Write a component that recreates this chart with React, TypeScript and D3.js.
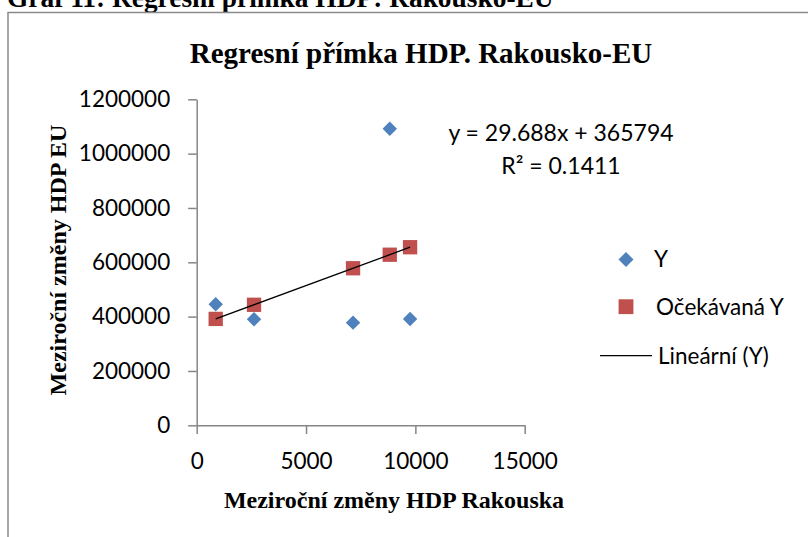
import React, { useRef, useEffect } from "react";
import { select, axisLeft, axisBottom, scaleLinear, symbol, symbolSquare } from "d3";

// values
const xValues = [869, 2621, 7150, 8829, 9758];
const yValues = [445700, 390400, 377900, 1091300, 391500];
const expectedY = [391600, 443600, 578100, 627900, 655500];
const xTicks = [0, 5000, 10000, 15000];
const yTicks = [0, 200000, 400000, 600000, 800000, 1000000, 1200000];
const slope = 29.688;
const intercept = 365794;
const legendLabels = ["Y", "Očekávaná Y", "Lineární (Y)"];

const W = 808;
const H = 537;
const numFont = "Lato, 'Open Sans', sans-serif";
const serif = "'Liberation Serif', 'Times New Roman', serif";
const axisColor = "#868686";
const blue = "#4F81BD";
const red = "#C0504D";

function App() {
  const xAxisRef = useRef<SVGGElement>(null);
  const yAxisRef = useRef<SVGGElement>(null);

  const xScale = scaleLinear().domain([0, 15000]).range([196.7, 524.7]);
  const yScale = scaleLinear().domain([0, 1200000]).range([425.3, 99.3]);

  useEffect(() => {
    const xa = select(xAxisRef.current);
    xa.call(
      axisBottom(xScale).tickValues(xTicks).tickSize(8.7).tickSizeOuter(0).tickPadding(19).tickFormat((d) => String(d))
    );
    const ya = select(yAxisRef.current);
    ya.call(
      axisLeft(yScale).tickValues(yTicks).tickSize(8.5).tickSizeOuter(0).tickPadding(18).tickFormat((d) => String(d))
    );
    [xa, ya].forEach((g) => {
      g.select(".domain").attr("stroke", axisColor).attr("stroke-width", 1.5);
      g.selectAll(".tick line").attr("stroke", axisColor).attr("stroke-width", 1.5);
      g.selectAll(".tick text")
        .attr("fill", "#000")
        .style("font-family", numFont)
        .style("font-size", "22.5px");
    });
  }, []);

  // Excel's diamond is a square turned by 45 degrees
  const diamond = symbol().type(symbolSquare).size(104)();
  const square = symbol().type(symbolSquare).size(205)();
  const legendDiamond = symbol().type(symbolSquare).size(112)();
  const legendSquare = symbol().type(symbolSquare).size(220)();

  const xMin = Math.min(...xValues);
  const xMax = Math.max(...xValues);

  return (
    <div style={{ position: "absolute", left: 0, top: 0 }}>
      <svg width={W} height={H} style={{ display: "block", background: "#fff" }}>
        {/* caption of the document, cut off at the top like in the source */}
        <text x={7} y={7} fontFamily={serif} fontWeight="bold" fontSize={27.4} fill="#000">
          Graf 11: Regresní přímka HDP: Rakousko-EU
        </text>

        {/* chart frame */}
        <path d={`M8,${H} L8,12.5 L${W},12.5`} fill="none" stroke="#8a8a8a" strokeWidth={1.5} />

        <text x={421} y={63} textAnchor="middle" fontFamily={serif} fontWeight="bold" fontSize={29} fill="#000">
          Regresní přímka HDP. Rakousko-EU
        </text>

        <g ref={xAxisRef} transform={`translate(0,${yScale(0)})`} />
        <g ref={yAxisRef} transform={`translate(${xScale(0)},0)`} />

        <text
          transform="translate(66,260) rotate(-90)"
          textAnchor="middle"
          fontFamily={serif}
          fontWeight="bold"
          fontSize={24}
          fill="#000"
        >
          Meziroční změny HDP EU
        </text>
        <text x={394} y={508} textAnchor="middle" fontFamily={serif} fontWeight="bold" fontSize={24} fill="#000">
          Meziroční změny HDP Rakouska
        </text>

        {/* expected values */}
        {xValues.map((x, i) => (
          <path key={"s" + i} d={square} transform={`translate(${xScale(x)},${yScale(expectedY[i])})`} fill={red} />
        ))}
        {/* observed values */}
        {xValues.map((x, i) => (
          <path
            key={"d" + i}
            d={diamond}
            transform={`translate(${xScale(x)},${yScale(yValues[i])}) rotate(45)`}
            fill={blue}
          />
        ))}

        {/* linear trendline */}
        <line
          x1={xScale(xMin)}
          y1={yScale(slope * xMin + intercept)}
          x2={xScale(xMax)}
          y2={yScale(slope * xMax + intercept)}
          stroke="#000"
          strokeWidth={1.3}
        />

        <g fontFamily={numFont} fontSize={23} fill="#000" textAnchor="middle">
          <text x={561} y={141}>y = 29.688x + 365794</text>
          <text x={561} y={174}>R² = 0.1411</text>
        </g>

        {/* legend */}
        <g fontFamily={numFont} fontSize={22.5} fill="#000">
          <path d={legendDiamond} transform="translate(626,259.5) rotate(45)" fill={blue} />
          <text x={654} y={267}>{legendLabels[0]}</text>
          <path d={legendSquare} transform="translate(626,306.7)" fill={red} />
          <text x={656} y={315}>{legendLabels[1]}</text>
          <line x1={600} x2={652} y1={355.7} y2={355.7} stroke="#000" strokeWidth={1.3} />
          <text x={658} y={363.5}>{legendLabels[2]}</text>
        </g>
      </svg>
    </div>
  );
}

export default App;
